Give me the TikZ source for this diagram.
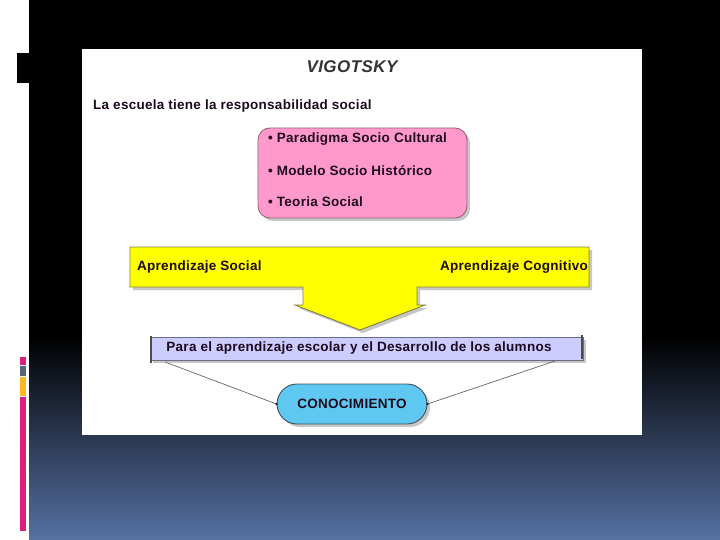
\documentclass[tikz,border=0pt]{standalone}
\usepackage{fontspec}
\setmainfont{Liberation Sans}
\newfontfamily\widefont[LetterSpace=2]{Liberation Sans}
\newfontfamily\titlefont[LetterSpace=2.5]{Liberation Sans}
\definecolor{bgblue}{RGB}{86,113,163}
\definecolor{pinkfill}{RGB}{255,153,204}
\definecolor{pinkline}{RGB}{150,100,120}
\definecolor{yel}{RGB}{255,255,0}
\definecolor{yelline}{RGB}{128,128,64}
\definecolor{lav}{RGB}{204,204,255}
\definecolor{lavline}{RGB}{110,110,130}
\definecolor{sky}{RGB}{95,200,240}
\definecolor{skyline}{RGB}{60,80,90}
\definecolor{barpink}{RGB}{222,30,125}
\definecolor{bargray}{RGB}{90,100,120}
\definecolor{baryellow}{RGB}{250,185,30}
\definecolor{txt}{RGB}{30,10,30}
\tikzset{
  lbl/.style={font=\widefont\bfseries\fontsize{13.5}{15}\selectfont, text=txt, inner sep=0pt},
  link/.style={draw=black!60, line width=0.7pt}
}
\begin{document}
\begin{tikzpicture}[x=1pt,y=-1pt]
\useasboundingbox (0,0) rectangle (720,540);
% background
\fill[white] (0,0) rectangle (720,540);
\fill[black] (29,0) rectangle (720,337);
\shade[top color=black, bottom color=bgblue] (29,336) rectangle (720,540);
\fill[black] (17,53) rectangle (29,83);
% left bars
\fill[barpink] (20,357) rectangle (26,365);
\fill[bargray] (20,366) rectangle (26,376);
\fill[baryellow] (20,377) rectangle (26,396);
\fill[barpink] (20,397) rectangle (26,531);
% white panel
\fill[white] (82,49) rectangle (642,435);
% title
\node[font=\titlefont\bfseries\itshape\fontsize{17}{19}\selectfont, text=black!80, inner sep=0pt] (title) at (352,67) {VIGOTSKY};
\node[lbl, anchor=west] (esc) at (93,106) {La escuela tiene la responsabilidad social};
% pink box
\fill[black!22, rounded corners=12pt] (261,131) rectangle (470,221);
\node[draw=pinkline, fill=pinkfill, line width=0.9pt, rounded corners=12pt, minimum width=209pt, minimum height=90pt, inner sep=0pt] (pink) at (362.5,173) {};
\node[lbl, anchor=west] (p1) at (268,139) {\textbullet\ Paradigma Socio Cultural};
\node[lbl, anchor=west] (p2) at (268,171) {\textbullet\ Modelo Socio Histórico};
\node[lbl, anchor=west] (p3) at (268,202) {\textbullet\ Teoria Social};
% yellow box with arrow
\fill[black!22] (133,250) -- (592,250) -- (592,290) -- (420,290) -- (420,308) -- (428,308) -- (363,333) -- (298,308) -- (306,308) -- (306,290) -- (133,290) -- cycle;
\draw[yelline, fill=yel, line width=0.9pt, line join=miter] (130,247) -- (589,247) -- (589,287) -- (417,287) -- (417,305) -- (425,305) -- (360,330) -- (295,305) -- (303,305) -- (303,287) -- (130,287) -- cycle;
\node[lbl, anchor=west] (as) at (137,267) {Aprendizaje Social};
\node[lbl, anchor=east] (ac) at (588,267) {Aprendizaje Cognitivo};
% lavender box
\fill[black!22] (153,340) rectangle (586,363);
\node[draw=lavline, fill=lav, line width=0.8pt, minimum width=433pt, minimum height=23pt, inner sep=0pt] (lavbox) at (366.5,348.5) {};
\draw[black!70, line width=2pt] (151,336) -- (151,363);
\draw[black!70, line width=2pt] (582,335) -- (582,359);
\node[lbl] (para) at (359,348) {Para el aprendizaje escolar y el Desarrollo de los alumnos};
% conocimiento
\fill[black!22, rounded corners=20pt] (280,387) rectangle (430,427);
\node[draw=skyline, fill=sky, line width=0.9pt, rounded corners=20pt, minimum width=150pt, minimum height=40pt, inner sep=0pt, lbl] (con) at (352,404) {CONOCIMIENTO};
% connectors
\coordinate (la) at (165,362);
\coordinate (lb) at (555,361);
\draw[link] (la) -- (con.west);
\draw[link] (lb) -- (con.east);
\fill[black!80] (con.west) circle (1.5);
\fill[black!80] (con.east) circle (1.5);
\end{tikzpicture}
\end{document}
